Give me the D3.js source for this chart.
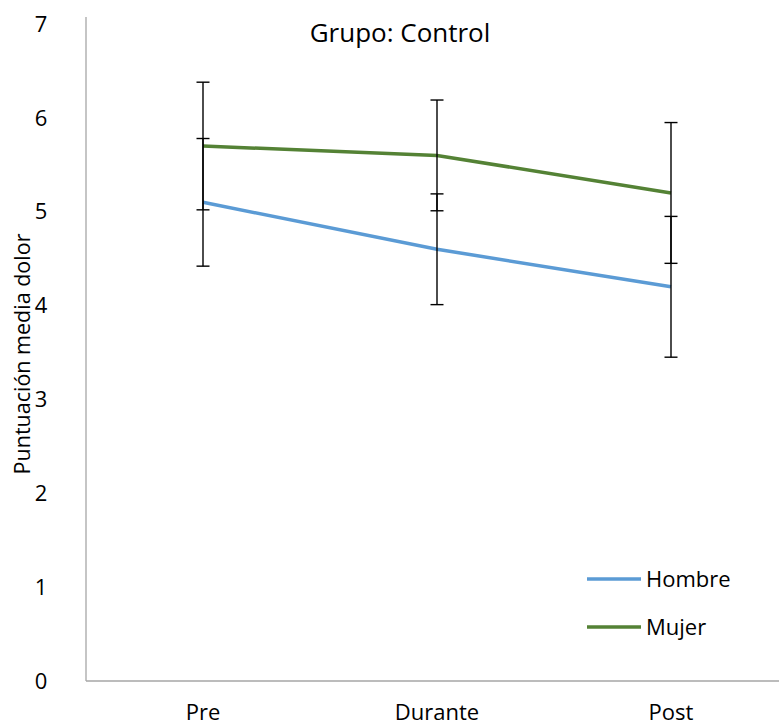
<!DOCTYPE html>
<html>
<head>
<meta charset="utf-8">
<script src="https://cdn.jsdelivr.net/npm/d3@7"></script>
<style>
  body { margin: 0; background: #fff; }
  svg text { font-family: "Open Sans", "Liberation Sans", sans-serif; fill: #000; }
</style>
</head>
<body>
<div id="chart"></div>
<script>
const categories = ["Pre", "Durante", "Post"];
const hombre = [5.1, 4.6, 4.2];
const mujer = [5.7, 5.6, 5.2];
const errorAmount = [0.68, 0.59, 0.75];
const yTicks = [0, 1, 2, 3, 4, 5, 6, 7];
const seriesNames = ["Hombre", "Mujer"];
const seriesColors = ["#5B9BD5", "#548235"];

const width = 779, height = 726;
const plotLeft = 86, plotTop = 24, plotBottom = 681;
const bandW = 234;

const svg = d3.select("#chart").append("svg")
  .attr("width", width).attr("height", height);

const x = d3.scaleBand().domain(categories)
  .range([plotLeft, plotLeft + bandW * categories.length]);
const y = d3.scaleLinear().domain([0, 7]).range([plotBottom, plotTop]);

// axes
svg.append("line")
  .attr("x1", plotLeft).attr("x2", plotLeft)
  .attr("y1", 17).attr("y2", plotBottom)
  .attr("stroke", "#a6a6a6").attr("stroke-width", 1.3);
svg.append("line")
  .attr("x1", plotLeft).attr("x2", width)
  .attr("y1", plotBottom).attr("y2", plotBottom)
  .attr("stroke", "#a6a6a6").attr("stroke-width", 1.3);

svg.append("g").selectAll("text")
  .data(yTicks).join("text")
  .attr("x", 41).attr("y", d => y(d))
  .attr("dy", "0.35em")
  .attr("text-anchor", "middle")
  .attr("font-size", 22)
  .text(d => d);

svg.append("g").selectAll("text")
  .data(categories).join("text")
  .attr("x", d => x(d) + x.bandwidth() / 2)
  .attr("y", 712)
  .attr("dy", "0.35em")
  .attr("text-anchor", "middle")
  .attr("font-size", 22)
  .text(d => d);

svg.append("text")
  .attr("transform", `translate(22,${354}) rotate(-90)`)
  .attr("text-anchor", "middle")
  .attr("dy", "0.35em")
  .attr("font-size", 21.5)
  .text("Puntuación media dolor");

svg.append("text")
  .attr("x", 400).attr("y", 33)
  .attr("dy", "0.35em")
  .attr("text-anchor", "middle")
  .attr("font-size", 26)
  .text("Grupo: Control");

// lines
const series = [hombre, mujer];
const line = d3.line()
  .x((d, i) => x(categories[i]) + x.bandwidth() / 2)
  .y(d => y(d));

series.forEach((vals, s) => {
  svg.append("path")
    .datum(vals)
    .attr("fill", "none")
    .attr("stroke", seriesColors[s])
    .attr("stroke-width", 3.5)
    .attr("d", line);
});

// error bars
series.forEach(vals => {
  vals.forEach((v, i) => {
    const cx = x(categories[i]) + x.bandwidth() / 2;
    const lo = y(v - errorAmount[i]), hi = y(v + errorAmount[i]);
    const g = svg.append("g").attr("stroke", "#000").attr("stroke-width", 1.4);
    g.append("line").attr("x1", cx).attr("x2", cx).attr("y1", lo).attr("y2", hi);
    g.append("line").attr("x1", cx - 6.5).attr("x2", cx + 6.5).attr("y1", lo).attr("y2", lo);
    g.append("line").attr("x1", cx - 6.5).attr("x2", cx + 6.5).attr("y1", hi).attr("y2", hi);
  });
});

// legend
const legend = svg.append("g");
seriesNames.forEach((name, i) => {
  const ly = 579 + i * 48;
  legend.append("line")
    .attr("x1", 587).attr("x2", 641)
    .attr("y1", ly).attr("y2", ly)
    .attr("stroke", seriesColors[i]).attr("stroke-width", 3.5);
  legend.append("text")
    .attr("x", 646).attr("y", ly)
    .attr("dy", "0.35em")
    .attr("font-size", 22)
    .text(name);
});
</script>
</body>
</html>
